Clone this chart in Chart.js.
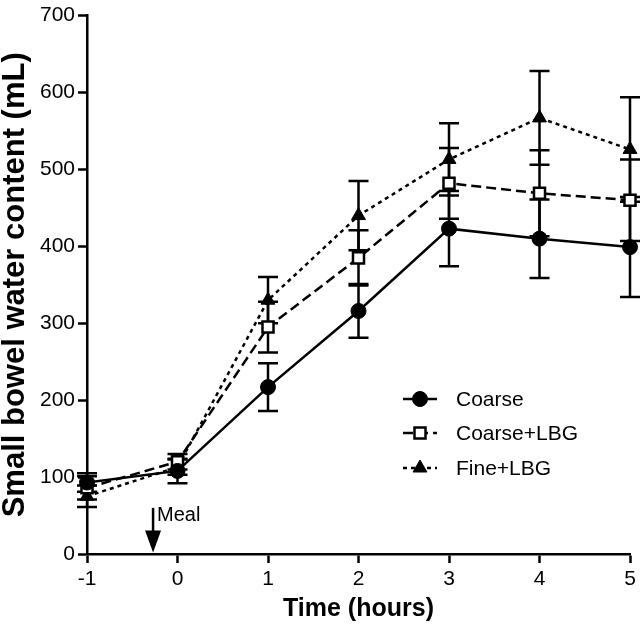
<!DOCTYPE html>
<html><head><meta charset="utf-8">
<script src="https://cdn.jsdelivr.net/npm/chart.js@4"></script>
<style>html,body{margin:0;padding:0;background:#fff;} canvas{display:block;}</style>
</head><body>
<div style="width:641px;height:628px;"><canvas id="c" width="641" height="628"></canvas></div>
<script>
// ---- data ----
const timeHours = [-1, 0, 1, 2, 3, 4, 5];
const coarse = [93, 108, 217, 316, 423, 410, 399];
const coarseErr = [12, 16, 31, 35, 49, 51, 65];
const coarseLBG = [86, 120, 295, 385, 482, 469, 460];
const coarseLBGErr = [15, 10, 33, 36, 46, 56, 53];
const fineLBG = [75, 113, 330, 440, 513, 567, 526];
const fineLBGErr = [14, 10, 30, 45, 47, 61, 68];
const seriesNames = ['Coarse', 'Coarse+LBG', 'Fine+LBG'];
const xTickValues = [-1, 0, 1, 2, 3, 4, 5];
const yTickValues = [0, 100, 200, 300, 400, 500, 600, 700];
const mealLabel = 'Meal';
const mealTime = -0.27;      // hours
const mealArrowTop = 60;     // mL
const mealArrowTip = 2;      // mL

const FONT = '"Liberation Sans", Arial, sans-serif';

function pts(vals, errs) {
  return timeHours.map((t, i) => ({ x: t, y: vals[i], e: errs[i] }));
}

const styles = [
  { dash: [], pointStyle: 'circle', radius: 7.5, fill: '#000', pbw: 1 },
  { dash: [10, 5], pointStyle: 'rect', radius: 7.8, fill: '#fff', pbw: 2.5 },
  { dash: [4, 4], pointStyle: 'triangle', radius: 8, fill: '#000', pbw: 1 }
];
const seriesData = [pts(coarse, coarseErr), pts(coarseLBG, coarseLBGErr), pts(fineLBG, fineLBGErr)];

const datasets = seriesNames.map((name, i) => ({
  label: name,
  data: seriesData[i],
  borderColor: '#000',
  borderWidth: 2.5,
  borderDash: styles[i].dash,
  pointStyle: styles[i].pointStyle,
  pointRadius: styles[i].radius,
  pointBackgroundColor: styles[i].fill,
  pointBorderColor: '#000',
  pointBorderWidth: styles[i].pbw,
  tension: 0,
  fill: false,
  clip: false
}));

const errorBars = {
  id: 'errorBars',
  beforeDatasetsDraw(chart) {
    const { ctx, scales: { x, y } } = chart;
    ctx.save();
    ctx.strokeStyle = '#000';
    ctx.lineWidth = 2.5;
    ctx.setLineDash([]);
    chart.data.datasets.forEach((ds) => {
      ds.data.forEach(p => {
        const px = x.getPixelForValue(p.x);
        const top = y.getPixelForValue(p.y + p.e);
        const bot = y.getPixelForValue(p.y - p.e);
        ctx.beginPath();
        ctx.moveTo(px, top); ctx.lineTo(px, bot);
        ctx.moveTo(px - 10, top); ctx.lineTo(px + 10, top);
        ctx.moveTo(px - 10, bot); ctx.lineTo(px + 10, bot);
        ctx.stroke();
      });
    });
    ctx.restore();
  }
};

const annotations = {
  id: 'annotations',
  afterDatasetsDraw(chart) {
    const { ctx, scales: { x, y } } = chart;
    ctx.save();
    // Meal arrow
    const ax = x.getPixelForValue(mealTime);
    const aTop = y.getPixelForValue(mealArrowTop);
    const aTip = y.getPixelForValue(mealArrowTip);
    ctx.strokeStyle = '#000'; ctx.fillStyle = '#000'; ctx.lineWidth = 2.5;
    ctx.beginPath(); ctx.moveTo(ax, aTop); ctx.lineTo(ax, aTip - 20); ctx.stroke();
    ctx.beginPath(); ctx.moveTo(ax - 8, aTip - 22); ctx.lineTo(ax + 8, aTip - 22); ctx.lineTo(ax, aTip); ctx.closePath(); ctx.fill();
    ctx.font = '20px ' + FONT; ctx.textBaseline = 'middle'; ctx.textAlign = 'left';
    ctx.fillText(mealLabel, ax + 4, aTop + 8);

    // Legend
    const lx0 = 403, lx1 = 437, mx = 420, tx = 456;
    const rows = [399, 433, 468];
    chart.data.datasets.forEach((ds, i) => {
      const ry = rows[i];
      ctx.save();
      ctx.lineWidth = 2.5; ctx.strokeStyle = '#000';
      ctx.setLineDash(ds.borderDash);
      ctx.beginPath(); ctx.moveTo(lx0, ry); ctx.lineTo(lx1, ry); ctx.stroke();
      ctx.setLineDash([]);
      ctx.fillStyle = ds.pointBackgroundColor;
      ctx.lineWidth = ds.pointBorderWidth;
      Chart.helpers.drawPoint(ctx, { pointStyle: ds.pointStyle, radius: ds.pointRadius, rotation: 0, borderWidth: ds.pointBorderWidth }, mx, ry);
      ctx.restore();
      ctx.fillStyle = '#000';
      ctx.font = '21px ' + FONT; ctx.textBaseline = 'middle'; ctx.textAlign = 'left';
      ctx.fillText(ds.label, tx, ry + 1);
    });
    ctx.restore();
  }
};

new Chart(document.getElementById('c'), {
  type: 'line',
  data: { datasets },
  plugins: [errorBars, annotations],
  options: {
    responsive: false,
    animation: false,
    layout: { padding: { top: 12, right: 11, left: 0, bottom: 0 } },
    plugins: { legend: { display: false }, tooltip: { enabled: false } },
    scales: {
      x: {
        type: 'linear', min: -1, max: 5,
        afterBuildTicks: s => { s.ticks = xTickValues.map(v => ({ value: v })); },
        afterFit: s => { s.height = 74; },
        ticks: { color: '#000', font: { family: FONT, size: 21 }, padding: 4, maxRotation: 0 },
        grid: { display: true, drawOnChartArea: false, drawTicks: true, tickLength: 9, tickWidth: 2.5, tickColor: '#000' },
        border: { display: true, color: '#000', width: 2.5 },
        title: { display: true, text: 'Time (hours)', color: '#000', font: { family: FONT, size: 25, weight: 'bold' }, padding: { top: 4, bottom: 4 } }
      },
      y: {
        type: 'linear', min: 0, max: 700,
        afterBuildTicks: s => { s.ticks = yTickValues.map(v => ({ value: v })); },
        afterFit: s => { s.width = 87; },
        ticks: { color: '#000', font: { family: FONT, size: 21 }, padding: 3 },
        grid: { display: true, drawOnChartArea: false, drawTicks: true, tickLength: 9, tickWidth: 2.5, tickColor: '#000' },
        border: { display: true, color: '#000', width: 2.5 },
        title: { display: true, text: 'Small bowel water content (mL)', color: '#000', font: { family: FONT, size: 31, weight: 'bold', lineHeight: 1 }, padding: { top: 0, bottom: 0 } }
      }
    }
  }
});
</script>
</body></html>
